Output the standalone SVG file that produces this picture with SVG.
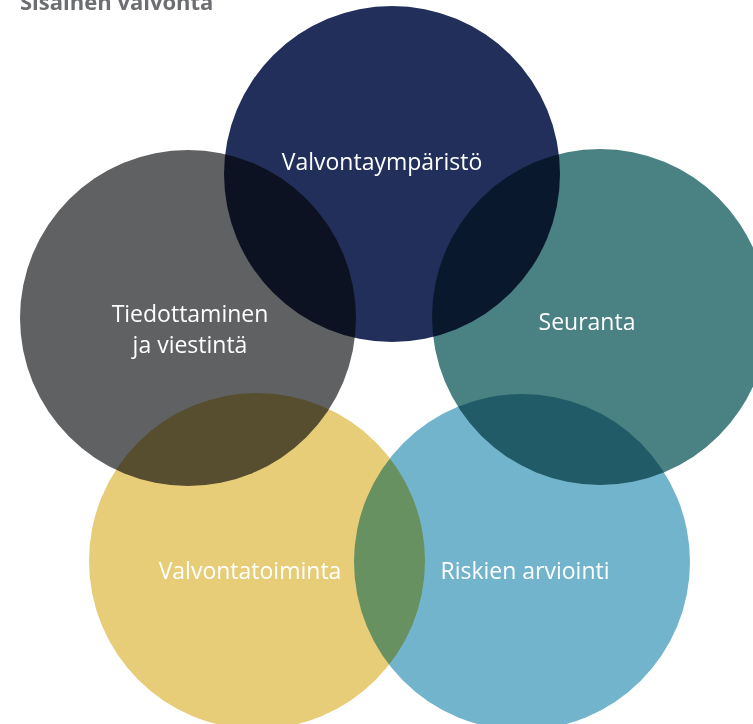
<svg xmlns="http://www.w3.org/2000/svg" width="753" height="724" viewBox="0 0 753 724">
  <style>
    .c { mix-blend-mode: multiply; }
    .lbl { font-family: "Open Sans", "Liberation Sans", sans-serif; font-size: 23px; fill: #ffffff; text-anchor: middle; }
    .title { font-family: "Open Sans", "Liberation Sans", sans-serif; font-size: 22px; font-weight: bold; fill: #6d6e71; }
  </style>
  <rect width="753" height="724" fill="#ffffff"/>
  <g id="diagram" style="isolation:isolate">
    <g id="valvontaymparisto">
      <circle class="c" cx="392" cy="174" r="168" fill="#212f5a"/>
    </g>
    <g id="tiedottaminen">
      <circle class="c" cx="188" cy="318" r="168" fill="#606163"/>
    </g>
    <g id="seuranta">
      <circle class="c" cx="600" cy="317" r="168" fill="#4a8182"/>
    </g>
    <g id="valvontatoiminta">
      <circle class="c" cx="257" cy="561" r="168" fill="#e7cd78"/>
    </g>
    <g id="riskien-arviointi">
      <circle class="c" cx="522" cy="562" r="168" fill="#72b4cc"/>
    </g>
  </g>
  <g id="labels">
    <text class="lbl" x="382" y="170">Valvontaympäristö</text>
    <text class="lbl" x="190" y="322">Tiedottaminen</text>
    <text class="lbl" x="190" y="353">ja viestintä</text>
    <text class="lbl" x="587" y="330">Seuranta</text>
    <text class="lbl" x="250" y="579">Valvontatoiminta</text>
    <text class="lbl" x="525" y="579">Riskien arviointi</text>
  </g>
  <g id="connectors"/>
  <text class="title" x="20" y="10">Sisäinen valvonta</text>
</svg>
